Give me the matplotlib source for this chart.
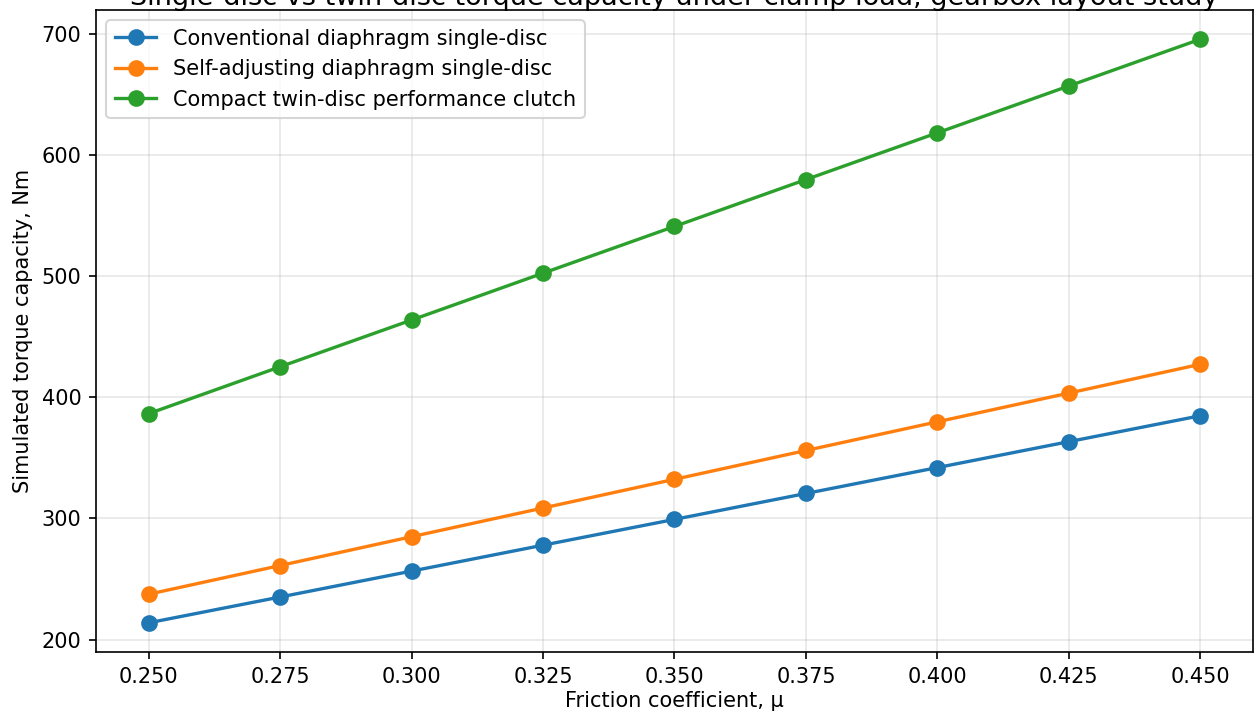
import numpy as np
import matplotlib.pyplot as plt

mu = [0.250, 0.275, 0.300, 0.325, 0.350, 0.375, 0.400, 0.425, 0.450]

conventional = [213.8, 235.1, 256.5, 277.9, 299.2, 320.6, 342.0, 363.4, 384.8]
self_adjusting = [237.4, 261.1, 284.9, 308.6, 332.3, 356.1, 379.8, 403.5, 427.3]
twin_disc = [386.5, 425.2, 463.8, 502.5, 541.1, 579.8, 618.4, 657.1, 695.7]

labels = ["Conventional diaphragm single-disc",
          "Self-adjusting diaphragm single-disc",
          "Compact twin-disc performance clutch"]
colors = ["#1f77b4", "#ff7f0e", "#2ca02c"]

fig = plt.figure(figsize=(1254 / 150, 715 / 150), dpi=150)
ax = fig.add_axes([96 / 1254, 63 / 715, 1157 / 1254, 642 / 715])

for vals, lab, c in zip([conventional, self_adjusting, twin_disc], labels, colors):
    ax.plot(mu, vals, marker="o", color=c, linewidth=1.6, markersize=7, label=lab)

ax.set_xticks(mu)
ax.set_xticklabels([f"{m:.3f}" for m in mu])
ax.set_xlabel("Friction coefficient, μ", fontsize=10, labelpad=2)
ax.set_ylabel("Simulated torque capacity, Nm", fontsize=10)
ax.tick_params(labelsize=10)
ax.grid(True, alpha=0.3)
ax.legend(loc="upper left", fontsize=10)

# title sits mostly above the visible area, as in the reference
fig.text(0.538, 1 - 5 / 715,
         "Single-disc vs twin-disc torque capacity under clamp load, gearbox layout study",
         ha="center", va="baseline", fontsize=13)

fig.savefig("out.png", dpi=150)
